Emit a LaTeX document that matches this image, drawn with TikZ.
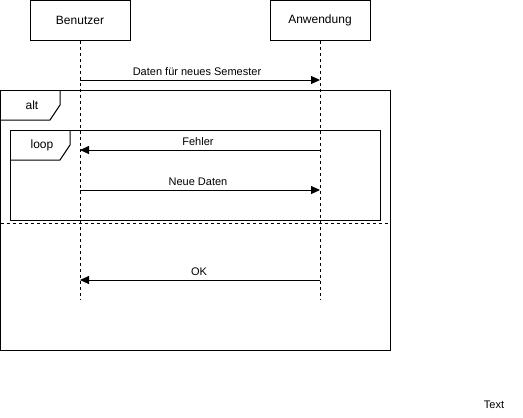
\documentclass[tikz,border=0pt]{standalone}
\usepackage{fontspec}
\setmainfont{Liberation Sans}
\usetikzlibrary{arrows.meta}

\tikzset{
  actor/.style={draw, rectangle, minimum width=100pt, minimum height=40pt,
    inner sep=0pt, font=\fontsize{12}{14}\selectfont},
  lifeline/.style={dash pattern=on 3pt off 3pt},
  msg/.style={-{Triangle[length=9pt,width=8pt]}},
  msglabel/.style={font=\fontsize{11}{13}\selectfont, anchor=base, inner sep=0pt},
  fragname/.style={font=\fontsize{12}{14}\selectfont, inner sep=0pt},
}

\begin{document}
\begin{tikzpicture}[x=1pt, y=-1pt, line width=1pt]
\useasboundingbox (0,0) rectangle (523,418);

\node[actor] (ben) at (80,20) {Benutzer};
\node[actor] (anw) at (320,20) {Anwendung};

\coordinate (benEnd) at (80,300);
\coordinate (anwEnd) at (320,300);
\draw[lifeline] (ben) -- (benEnd);
\draw[lifeline] (anw) -- (anwEnd);

% alt fragment
\draw (0.5,90) rectangle (390,350);
\draw (0.5,120) -- (50,120) -- (60,105) -- (60,90);
\node[fragname] (alt) at (32,105) {alt};
\coordinate (altL) at (0.5,223);
\coordinate (altR) at (390,223);
\draw[lifeline] (altL) -- (altR);

% loop fragment
\draw (10,130) rectangle (380,220);
\draw (10,160) -- (60,160) -- (70,145) -- (70,130);
\node[fragname] (loop) at (42,145) {loop};

% messages
\coordinate (ben1) at (80,80);  \coordinate (anw1) at (320,80);
\coordinate (ben2) at (80,150); \coordinate (anw2) at (320,150);
\coordinate (ben3) at (80,190); \coordinate (anw3) at (320,190);
\coordinate (ben4) at (80,280); \coordinate (anw4) at (320,280);

\draw[msg] (ben1) -- (anw1);
\node[msglabel] (m1) at (197,75) {Daten für neues Semester};
\draw[msg] (anw2) -- (ben2);
\node[msglabel] (m2) at (198,145) {Fehler};
\draw[msg] (ben3) -- (anw3);
\node[msglabel] (m3) at (198,185) {Neue Daten};
\draw[msg] (anw4) -- (ben4);
\node[msglabel] (m4) at (199,275) {OK};

\node[font=\fontsize{11}{13}\selectfont, inner sep=0pt] (txt) at (494,405) {Text};
\end{tikzpicture}
\end{document}
